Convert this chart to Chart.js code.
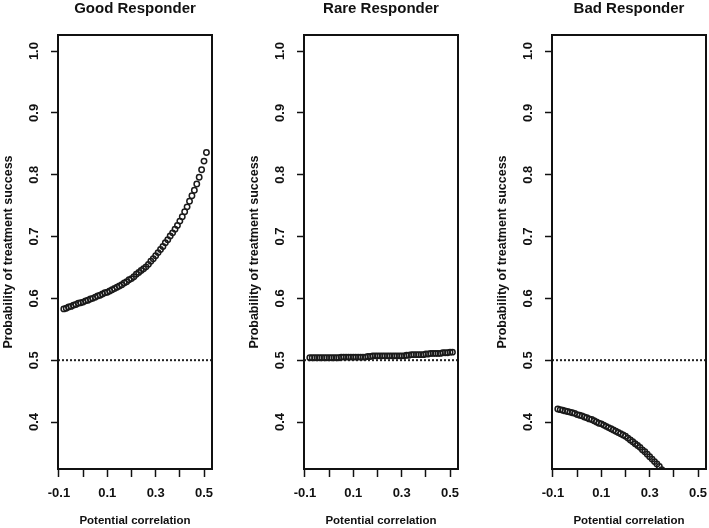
<!DOCTYPE html>
<html>
<head>
<meta charset="utf-8">
<script src="https://cdn.jsdelivr.net/npm/chart.js@4.4.0/dist/chart.umd.min.js"></script>
<style>
  html, body { margin: 0; padding: 0; background: #fff; overflow: hidden; }
  #wrap { position: relative; width: 709px; height: 528px; overflow: hidden; }
  canvas { position: absolute; top: 0; }
</style>
</head>
<body>
<div id="wrap">
  <canvas id="good" width="270" height="528" style="left:0px"></canvas>
  <canvas id="rare" width="270" height="528" style="left:246px"></canvas>
  <canvas id="bad" width="270" height="528" style="left:494px"></canvas>
</div>
<script>
// potential correlation values (x)
const corrValues = [
  -0.08, -0.07, -0.06, -0.05, -0.04, -0.03, -0.02, -0.01, 0.00, 0.01,
  0.02, 0.03, 0.04, 0.05, 0.06, 0.07, 0.08, 0.09, 0.10, 0.11,
  0.12, 0.13, 0.14, 0.15, 0.16, 0.17, 0.18, 0.19, 0.20, 0.21,
  0.22, 0.23, 0.24, 0.25, 0.26, 0.27, 0.28, 0.29, 0.30, 0.31,
  0.32, 0.33, 0.34, 0.35, 0.36, 0.37, 0.38, 0.39, 0.40, 0.41,
  0.42, 0.43, 0.44, 0.45, 0.46, 0.47, 0.48, 0.49, 0.50, 0.51
];

// probability of treatment success per panel
const goodProb = [
  0.583, 0.584, 0.586, 0.587, 0.589, 0.590, 0.592, 0.593, 0.594, 0.596,
  0.597, 0.599, 0.600, 0.602, 0.604, 0.605, 0.607, 0.609, 0.610, 0.612,
  0.614, 0.616, 0.618, 0.620, 0.622, 0.625, 0.627, 0.630, 0.632, 0.635,
  0.639, 0.642, 0.645, 0.648, 0.651, 0.655, 0.660, 0.664, 0.669, 0.674,
  0.679, 0.684, 0.690, 0.695, 0.701, 0.706, 0.712, 0.718, 0.725, 0.732,
  0.740, 0.748, 0.757, 0.766, 0.775, 0.785, 0.796, 0.808, 0.822, 0.836
];
const rareProb = [
  0.504, 0.504, 0.504, 0.504, 0.504, 0.504, 0.504, 0.504, 0.504, 0.504,
  0.504, 0.504, 0.504, 0.505, 0.505, 0.505, 0.505, 0.505, 0.505, 0.505,
  0.505, 0.505, 0.505, 0.505, 0.506, 0.506, 0.507, 0.507, 0.507, 0.507,
  0.507, 0.507, 0.507, 0.507, 0.507, 0.507, 0.507, 0.507, 0.507, 0.507,
  0.508, 0.508, 0.509, 0.509, 0.509, 0.509, 0.509, 0.509, 0.510, 0.510,
  0.511, 0.511, 0.511, 0.511, 0.511, 0.512, 0.512, 0.512, 0.513, 0.513
];
// bad responder curve leaves the plot after 0.35
const badProb = [
  0.421, 0.420, 0.419, 0.418, 0.417, 0.416, 0.415, 0.414, 0.412, 0.411,
  0.410, 0.408, 0.407, 0.405, 0.404, 0.402, 0.400, 0.398, 0.397, 0.395,
  0.393, 0.391, 0.389, 0.387, 0.385, 0.383, 0.381, 0.379, 0.377, 0.374,
  0.371, 0.368, 0.365, 0.362, 0.359, 0.355, 0.352, 0.348, 0.344, 0.340,
  0.336, 0.332, 0.328, 0.323
];

const panelTitles = ["Good Responder", "Rare Responder", "Bad Responder"];
const xTickLabels = ["-0.1", "0.1", "0.3", "0.5"];
const refLine = 0.5;

const ink = '#111';
const fontFamily = '"Liberation Sans", Arial, sans-serif';

// box around the plot + dotted reference line
const framePlugin = {
    id: 'frame',
    beforeDatasetsDraw(chart) {
        const {ctx, chartArea, scales} = chart;
        const y = scales.y.getPixelForValue(refLine);
        ctx.save();
        ctx.strokeStyle = '#222';
        ctx.lineWidth = 2;
        ctx.setLineDash([2, 2]);
        ctx.beginPath();
        ctx.moveTo(chartArea.left, y);
        ctx.lineTo(chartArea.right, y);
        ctx.stroke();
        ctx.restore();
    },
    afterDraw(chart) {
        const {ctx, chartArea} = chart;
        ctx.save();
        ctx.strokeStyle = ink;
        ctx.lineWidth = 2;
        ctx.strokeRect(chartArea.left, chartArea.top,
            chartArea.right - chartArea.left, chartArea.bottom - chartArea.top);
        ctx.restore();
    }
};

function makePanel(id, title, probs) {
    const points = probs.map((p, i) => ({x: corrValues[i], y: p}));
    return new Chart(document.getElementById(id), {
        type: 'scatter',
        data: {
            datasets: [{
                data: points,
                pointStyle: 'circle',
                pointRadius: 2.7,
                pointHoverRadius: 2.7,
                borderWidth: 1.5,
                borderColor: '#1a1a1a',
                backgroundColor: 'rgba(0,0,0,0)'
            }]
        },
        options: {
            responsive: false,
            animation: false,
            events: [],
            layout: { padding: { left: 0, right: 58, top: 0, bottom: 0 } },
            plugins: {
                legend: { display: false },
                tooltip: { enabled: false },
                title: {
                    display: true,
                    text: title,
                    fullSize: false,
                    color: ink,
                    font: { family: fontFamily, size: 15, weight: 'bold' },
                    padding: { top: 0, bottom: 17 }
                }
            },
            scales: {
                x: {
                    type: 'linear',
                    position: 'bottom',
                    min: -0.104,
                    max: 0.533,
                    afterFit(scale) { scale.height = 59; },
                    border: { display: false },
                    grid: {
                        display: true, drawOnChartArea: false, drawTicks: true,
                        tickLength: 8, tickWidth: 1.5, tickColor: ink
                    },
                    ticks: {
                        stepSize: 0.1,
                        includeBounds: false,
                        maxRotation: 0,
                        autoSkip: false,
                        padding: 9,
                        color: ink,
                        font: { family: fontFamily, size: 13, weight: 'bold' },
                        callback(v) {
                            const s = (Math.round(v * 10) / 10).toFixed(1);
                            return xTickLabels.includes(s) ? s : '';
                        }
                    },
                    title: {
                        display: true,
                        text: 'Potential correlation',
                        color: ink,
                        font: { family: fontFamily, size: 11.5, weight: 'bold' },
                        padding: { top: 0, bottom: 0 }
                    }
                },
                y: {
                    type: 'linear',
                    min: 0.324,
                    max: 1.026,
                    afterFit(scale) { scale.width = 58; },
                    border: { display: false },
                    grid: {
                        display: true, drawOnChartArea: false, drawTicks: true,
                        tickLength: 7, tickWidth: 1.5, tickColor: ink
                    },
                    ticks: {
                        stepSize: 0.1,
                        includeBounds: false,
                        minRotation: 90,
                        maxRotation: 90,
                        crossAlign: 'center',
                        padding: 8,
                        autoSkip: false,
                        color: ink,
                        font: { family: fontFamily, size: 13, weight: 'bold' },
                        callback(v) { return (Math.round(v * 10) / 10).toFixed(1); }
                    },
                    title: {
                        display: true,
                        text: 'Probability of treatment success',
                        color: ink,
                        font: { family: fontFamily, size: 12.5, weight: 'bold' },
                        padding: { top: 1, bottom: 0 }
                    }
                }
            }
        },
        plugins: [framePlugin]
    });
}

makePanel('good', panelTitles[0], goodProb);
makePanel('rare', panelTitles[1], rareProb);
makePanel('bad', panelTitles[2], badProb);
</script>
</body>
</html>
